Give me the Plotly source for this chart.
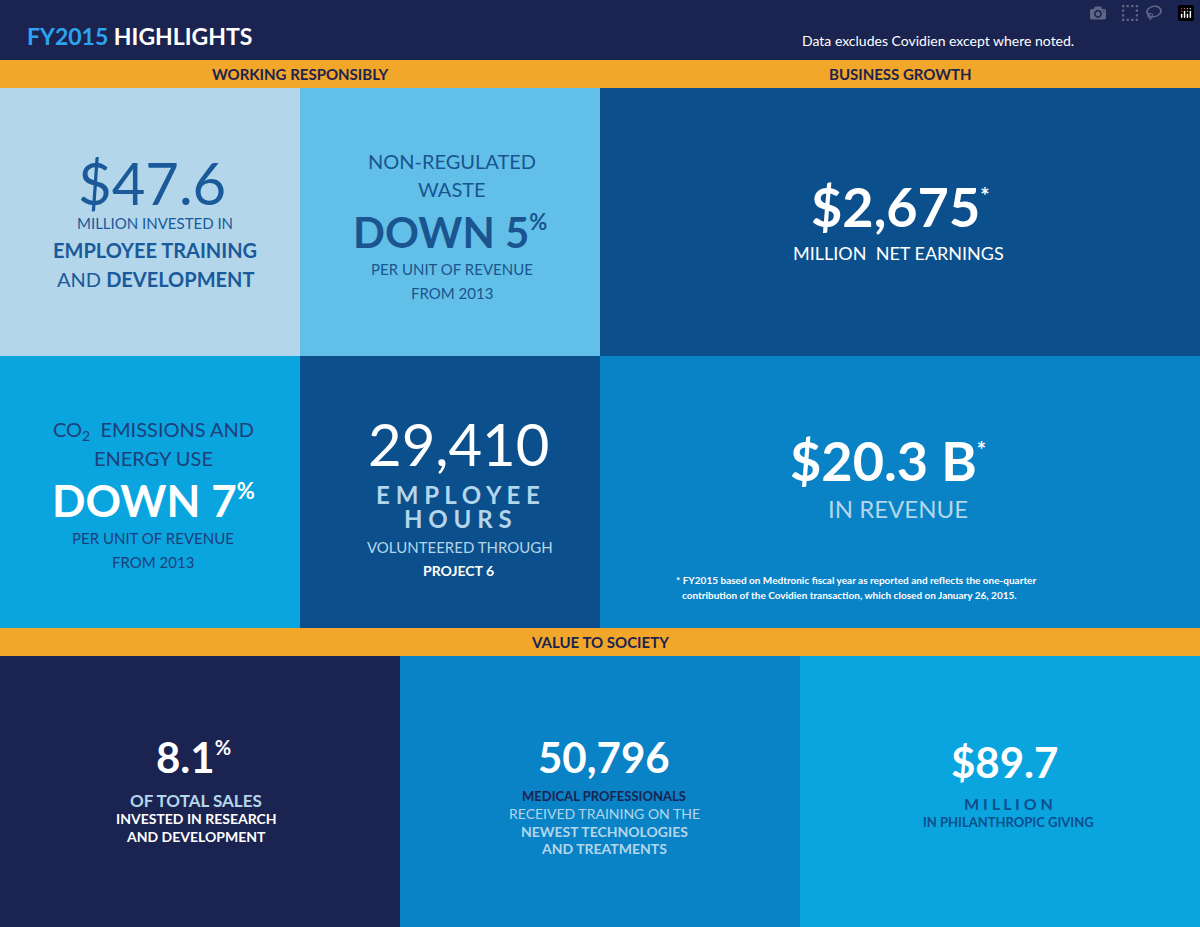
import plotly.graph_objects as go

W, H = 1200, 927
FONT = "Lato"

NAVY = "#1b2450"
ORANGE = "#f2a62a"
DEEP = "#0b4f8c"
MID = "#0a82c6"
BRIGHT = "#0aa5df"
SKY = "#62c0e8"
PALE = "#b3d6ea"

# section headers
section_names = ["WORKING RESPONSIBLY", "BUSINESS GROWTH", "VALUE TO SOCIETY"]

# headline figures
net_earnings = "$2,675"
revenue = "$20.3 B"
training_spend = "$47.6"
waste_down = "5"
co2_down = "7"
volunteer_hours = "29,410"
rd_share = "8.1"
professionals_trained = "50,796"
philanthropy = "$89.7"

footnote = ["* FY2015 based on Medtronic fiscal year as reported and reflects the one-quarter",
            "contribution of the Covidien transaction, which closed on January 26, 2015."]

# tiles: x0, y0, x1, y1, colour
tiles = [
    (0, 0, 1200, 60, NAVY),
    (0, 60, 1200, 88, ORANGE),
    (0, 88, 300, 356, PALE),
    (300, 88, 600, 356, SKY),
    (600, 88, 1200, 356, DEEP),
    (0, 356, 300, 628, BRIGHT),
    (300, 356, 600, 628, DEEP),
    (600, 356, 1200, 628, MID),
    (0, 628, 1200, 656, ORANGE),
    (0, 656, 400, 927, NAVY),
    (400, 656, 800, 927, MID),
    (800, 656, 1200, 927, BRIGHT),
]

fig = go.Figure()
fig.add_trace(go.Scatter(x=[0, W], y=[0, H], mode="markers", marker=dict(opacity=0),
                         hoverinfo="skip", showlegend=False))

for x0, y0, x1, y1, c in tiles:
    fig.add_shape(type="rect", x0=x0, y0=y0, x1=x1, y1=y1, fillcolor=c,
                  line=dict(width=0), layer="below")


def txt(x, y, s, size, color, xanchor="center"):
    fig.add_annotation(x=x, y=y, text=s, showarrow=False, xanchor=xanchor, yanchor="middle",
                       font=dict(family=FONT, size=size, color=color))


def sup(s, size):
    return "<sup><span style='font-size:%dpx'>%s</span></sup>" % (size, s)


# header
txt(25, 36, "<b><span style='color:#2ea3f2'>FY2015</span> HIGHLIGHTS</b>", 23, "white", "left")
txt(1076, 40, "Data excludes Covidien except where noted.", 14, "white", "right")
txt(300, 74, "<b>" + section_names[0] + "</b>", 15, NAVY)
txt(900, 74, "<b>" + section_names[1] + "</b>", 15, NAVY)
txt(600, 642, "<b>" + section_names[2] + "</b>", 15, NAVY)

# training
c1 = "#1a5a9a"
txt(152, 182, training_spend, 58, c1)
txt(155, 223, "MILLION INVESTED IN", 15, c1)
txt(155, 250, "<b>EMPLOYEE TRAINING</b>", 20, c1)
txt(155, 279, "AND <b>DEVELOPMENT</b>", 20, c1)

# waste
c2 = "#1a5590"
txt(452, 161, "NON-REGULATED", 20, c2)
txt(452, 189, "WASTE", 20, c2)
txt(450, 232, "<b>DOWN " + waste_down + sup("%", 22) + "</b>", 42, c2)
txt(452, 269, "PER UNIT OF REVENUE", 15, c2)
txt(452, 293, "FROM 2013", 15, c2)

# earnings
txt(900, 206, "<b>" + net_earnings + sup("*", 22) + "</b>", 54, "white")
txt(898, 253, "MILLION  NET EARNINGS", 18, "white")

# co2
c4 = "#1d3f7a"
txt(153, 430, "CO<sub>2</sub>  EMISSIONS AND", 20, c4)
txt(153, 458, "ENERGY USE", 20, c4)
txt(153, 500, "<b>DOWN " + co2_down + sup("%", 22) + "</b>", 44, "white")
txt(153, 538, "PER UNIT OF REVENUE", 15, c4)
txt(153, 562, "FROM 2013", 15, c4)

# volunteering
txt(458, 443, volunteer_hours, 58, "white")
txt(458, 494, "<b>E M P L O Y E E</b>", 24, PALE)
txt(458, 518, "<b>H O U R S</b>", 24, PALE)
txt(460, 547, "VOLUNTEERED THROUGH", 15, PALE)
txt(458, 570, "<b>PROJECT 6</b>", 14, "white")

# revenue
txt(888, 460, "<b>" + revenue + sup("*", 22) + "</b>", 54, "white")
txt(898, 508, "IN REVENUE", 24, PALE)
txt(674, 580, "<b>" + footnote[0] + "</b>", 10, "white", "left")
txt(680, 595, "<b>" + footnote[1] + "</b>", 10, "white", "left")

# R&D
txt(193, 757, "<b>" + rd_share + sup("%", 20) + "</b>", 42, "white")
txt(196, 800, "<b>OF TOTAL SALES</b>", 17, PALE)
txt(196, 818, "<b>INVESTED IN RESEARCH</b>", 14, "white")
txt(196, 836, "<b>AND DEVELOPMENT</b>", 14, "white")

# professionals
txt(604, 757, "<b>" + professionals_trained + "</b>", 42, "white")
txt(604, 796, "<b>MEDICAL PROFESSIONALS</b>", 13, NAVY)
txt(604, 813, "RECEIVED TRAINING ON THE", 14, PALE)
txt(604, 831, "<b>NEWEST TECHNOLOGIES</b>", 14, PALE)
txt(604, 848, "<b>AND TREATMENTS</b>", 14, PALE)

# philanthropy
txt(1004, 762, "<b>" + philanthropy + "</b>", 42, "white")
txt(1008, 803, "<b>M I L L I O N</b>", 16, DEEP)
txt(1008, 822, "<b>IN PHILANTHROPIC GIVING</b>", 13, DEEP)

fig.update_xaxes(range=[0, W], visible=False, fixedrange=True)
fig.update_yaxes(range=[H, 0], visible=False, fixedrange=True)
fig.update_layout(width=W, height=H, margin=dict(l=0, r=0, t=0, b=0),
                  plot_bgcolor=NAVY, paper_bgcolor=NAVY)
fig.write_html("out.html", post_script="document.body.style.margin='0';")
